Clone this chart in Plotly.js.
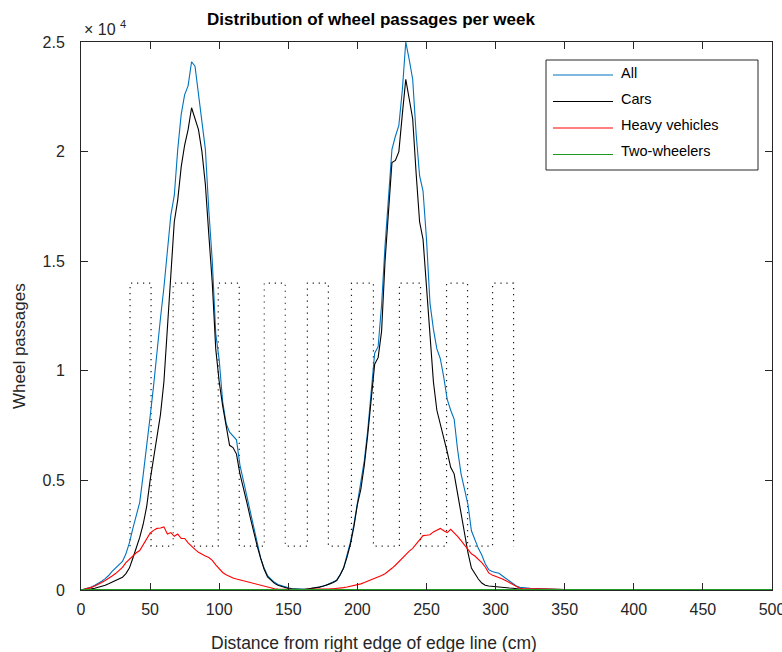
<!DOCTYPE html>
<html>
<head>
<meta charset="utf-8">
<script src="https://cdn.plot.ly/plotly-3.0.1.min.js"></script>
<style>
html,body{margin:0;padding:0;background:#fff;}
#chart{width:782px;height:652px;}
</style>
</head>
<body>
<div id="chart"></div>
<script>
// Distance from right edge of edge line (cm)
const distance = [
  0, 2.5, 5, 7.5, 10, 12.5, 15, 17.5, 20, 22.5,
  25, 27.5, 30, 32.5, 35, 37.5, 40, 42.5, 45, 47.5,
  50, 52.5, 55, 57.5, 60, 62.5, 65, 67.5, 70, 72.5,
  75, 77.5, 80, 82.5, 85, 87.5, 90, 92.5, 95, 97.5,
  100, 102.5, 105, 107.5, 110, 112.5, 115, 117.5, 120, 122.5,
  125, 127.5, 130, 132.5, 135, 137.5, 140, 142.5, 145, 147.5,
  150, 152.5, 155, 157.5, 160, 162.5, 165, 167.5, 170, 172.5,
  175, 177.5, 180, 182.5, 185, 187.5, 190, 192.5, 195, 197.5,
  200, 202.5, 205, 207.5, 210, 212.5, 215, 217.5, 220, 222.5,
  225, 227.5, 230, 232.5, 235, 237.5, 240, 242.5, 245, 247.5,
  250, 252.5, 255, 257.5, 260, 262.5, 265, 267.5, 270, 272.5,
  275, 277.5, 280, 282.5, 285, 287.5, 290, 292.5, 295, 297.5,
  300, 302.5, 305, 307.5, 310, 312.5, 315, 317.5, 320, 322.5,
  325, 330, 340, 350, 360, 370, 380, 390, 400, 410,
  420, 430, 440, 450, 460, 470, 480, 490, 500
];

// Wheel passages (x 10^4)
const allVehicles = [
  0, 0.004, 0.008, 0.014, 0.022, 0.030, 0.040, 0.052, 0.066, 0.085,
  0.100, 0.117, 0.130, 0.165, 0.215, 0.28, 0.34, 0.40, 0.525, 0.65,
  0.79, 0.93, 1.10, 1.24, 1.38, 1.55, 1.71, 1.80, 2.01, 2.17,
  2.26, 2.30, 2.41, 2.39, 2.27, 2.14, 2.01, 1.73, 1.50, 1.17,
  1.05, 0.86, 0.76, 0.72, 0.70, 0.685, 0.57, 0.50, 0.44, 0.37,
  0.29, 0.22, 0.145, 0.10, 0.065, 0.05, 0.035, 0.025, 0.02, 0.014,
  0.009, 0.006, 0.004, 0.003, 0.003, 0.004, 0.006, 0.008, 0.011, 0.014,
  0.018, 0.022, 0.030, 0.036, 0.045, 0.07, 0.10, 0.16, 0.22, 0.30,
  0.40, 0.48, 0.59, 0.73, 0.89, 1.08, 1.11, 1.30, 1.57, 1.78,
  2.01, 2.07, 2.12, 2.28, 2.50, 2.42, 2.33, 2.08, 1.89, 1.82,
  1.60, 1.31, 1.19, 1.10, 1.055, 0.97, 0.87, 0.82, 0.78, 0.64,
  0.53, 0.46, 0.39, 0.27, 0.23, 0.19, 0.16, 0.12, 0.093, 0.084,
  0.08, 0.076, 0.064, 0.052, 0.04, 0.028, 0.018, 0.012, 0.01, 0.008,
  0.008, 0.007, 0.004, 0.002, 0.002, 0.002, 0.001, 0, 0, 0,
  0, 0, 0, 0, 0, 0, 0, 0, 0
];

const cars = [
  0, 0.001, 0.002, 0.005, 0.008, 0.012, 0.017, 0.022, 0.028, 0.035,
  0.042, 0.05, 0.058, 0.075, 0.10, 0.145, 0.19, 0.24, 0.30, 0.38,
  0.50, 0.60, 0.71, 0.80, 0.95, 1.19, 1.47, 1.68, 1.78, 1.93,
  2.03, 2.10, 2.20, 2.15, 2.10, 2.00, 1.85, 1.62, 1.40, 1.10,
  0.95, 0.84, 0.75, 0.66, 0.65, 0.62, 0.53, 0.47, 0.40, 0.33,
  0.26, 0.20, 0.145, 0.095, 0.06, 0.045, 0.03, 0.022, 0.016, 0.011,
  0.007, 0.005, 0.003, 0.002, 0.002, 0.003, 0.005, 0.007, 0.010, 0.013,
  0.017, 0.021, 0.028, 0.034, 0.043, 0.068, 0.10, 0.15, 0.21, 0.29,
  0.39, 0.46, 0.57, 0.71, 0.87, 1.03, 1.06, 1.18, 1.50, 1.72,
  1.95, 1.96, 2.00, 2.17, 2.33, 2.24, 2.15, 1.90, 1.68, 1.60,
  1.38, 1.13, 0.95, 0.82, 0.76, 0.69, 0.63, 0.56, 0.53, 0.44,
  0.35, 0.27, 0.17, 0.10, 0.075, 0.05, 0.032, 0.022, 0.018, 0.016,
  0.014, 0.012, 0.011, 0.010, 0.009, 0.008, 0.005, 0.003, 0.002, 0.002,
  0.002, 0.001, 0.001, 0.002, 0.002, 0.002, 0.001, 0, 0, 0,
  0, 0, 0, 0, 0, 0, 0, 0, 0
];

const heavyVehicles = [
  0, 0.003, 0.007, 0.012, 0.018, 0.025, 0.034, 0.043, 0.052, 0.064,
  0.075, 0.09, 0.103, 0.125, 0.14, 0.155, 0.17, 0.18, 0.205, 0.235,
  0.259, 0.272, 0.281, 0.283, 0.288, 0.255, 0.262, 0.245, 0.255, 0.235,
  0.235, 0.215, 0.198, 0.185, 0.172, 0.162, 0.155, 0.148, 0.135, 0.115,
  0.095, 0.08, 0.07, 0.062, 0.055, 0.05, 0.046, 0.042, 0.037, 0.033,
  0.030, 0.025, 0.02, 0.015, 0.012, 0.008, 0.006, 0.004, 0.003, 0.002,
  0.002, 0.002, 0.002, 0.002, 0.002, 0.002, 0.002, 0.003, 0.003, 0.003,
  0.004, 0.004, 0.005, 0.006, 0.007, 0.008, 0.011, 0.014, 0.017, 0.02,
  0.023, 0.028, 0.034, 0.04, 0.047, 0.052, 0.058, 0.066, 0.074, 0.085,
  0.099, 0.113, 0.13, 0.146, 0.16, 0.177, 0.19, 0.21, 0.225, 0.248,
  0.25, 0.252, 0.265, 0.272, 0.281, 0.27, 0.262, 0.277, 0.262, 0.245,
  0.225, 0.205, 0.185, 0.165, 0.155, 0.14, 0.125, 0.105, 0.078, 0.068,
  0.063, 0.056, 0.05, 0.042, 0.033, 0.024, 0.014, 0.008, 0.006, 0.005,
  0.005, 0.005, 0.004, 0.001, 0, 0, 0, 0, 0, 0,
  0, 0, 0, 0, 0, 0, 0, 0, 0
];

const twoWheelers = [
  0, 0, 0, 0, 0, 0, 0, 0, 0, 0,
  0, 0, 0, 0, 0, 0.001, 0.001, 0.001, 0.001, 0.001,
  0.001, 0.001, 0.001, 0.001, 0.002, 0.002, 0.002, 0.002, 0.002, 0.002,
  0.002, 0.002, 0.002, 0.002, 0.002, 0.001, 0.001, 0.001, 0.001, 0.001,
  0.001, 0.001, 0.001, 0.001, 0.001, 0.001, 0, 0, 0, 0,
  0, 0, 0, 0, 0, 0, 0, 0, 0, 0,
  0, 0, 0, 0, 0, 0, 0, 0, 0, 0,
  0, 0, 0, 0, 0, 0, 0, 0, 0, 0,
  0, 0, 0.001, 0.001, 0.001, 0.001, 0.001, 0.001, 0.002, 0.002,
  0.002, 0.002, 0.002, 0.002, 0.002, 0.002, 0.002, 0.002, 0.002, 0.001,
  0.001, 0.001, 0.001, 0.001, 0.001, 0.001, 0.001, 0.001, 0.001, 0.001,
  0.001, 0.001, 0.001, 0, 0, 0, 0, 0, 0, 0,
  0, 0, 0, 0, 0, 0, 0, 0, 0, 0,
  0, 0, 0, 0, 0, 0, 0, 0, 0, 0,
  0, 0, 0, 0, 0, 0, 0, 0, 0
];

// Dotted square-wave guide: edge positions (cm) and its two levels (x 10^4)
const guideEdges = [35.5, 50.7, 66.7, 81.2, 99.3, 114.5, 132.6, 147.8, 163.8,
                    179, 195.7, 211.6, 230.4, 245.7, 264.5, 279.7, 297.8, 313];
const guideLevels = [0.2, 1.4];

const seriesNames = ['All', 'Cars', 'Heavy vehicles', 'Two-wheelers'];
const seriesColors = ['#0072BD', '#000000', '#FF0000', '#1E9A1E'];
const tickLabelsY = ['0', '0.5', '1', '1.5', '2', '2.5'];
const tickValsY = [0, 0.5, 1, 1.5, 2, 2.5];
const tickValsX = [0, 50, 100, 150, 200, 250, 300, 350, 400, 450, 500];

// build guide path
const gx = [], gy = [];
guideEdges.forEach((e, i) => {
  if (i % 2 === 0) { gx.push(e, e); gy.push(guideLevels[0], guideLevels[1]); }
  else { gx.push(e, e); gy.push(guideLevels[1], guideLevels[0]); }
});

const seriesData = [allVehicles, cars, heavyVehicles, twoWheelers];
const traces = [{
  x: gx, y: gy, mode: 'lines', type: 'scatter', showlegend: false,
  hoverinfo: 'skip',
  line: {color: '#1a1a1a', width: 1.2, dash: '1.2px,4.8px'}
}];
seriesData.forEach((d, i) => {
  traces.push({
    x: distance, y: d, mode: 'lines', type: 'scatter', name: seriesNames[i],
    line: {color: seriesColors[i], width: i === 3 ? 1.8 : 1.1},
    showlegend: false
  });
});

// pixel helpers for plot area 81..772 x 42..590
const L = 81, R = 772, T = 42, B = 590;
const px = v => (v - L) / (R - L);
const py = v => (B - v) / (B - T);
const FONT = 'Liberation Sans, Arial, Helvetica, sans-serif';

const shapes = [{
  type: 'rect', xref: 'paper', yref: 'paper',
  x0: px(546), x1: px(758), y0: py(170), y1: py(60),
  line: {color: '#262626', width: 1}, fillcolor: '#ffffff', layer: 'above'
}];
const annotations = [];
const lineRows = [75, 101.5, 128, 154.5];
const textRows = [72.5, 98.5, 125, 150.5];
seriesNames.forEach((n, i) => {
  shapes.push({
    type: 'line', xref: 'paper', yref: 'paper',
    x0: px(553), x1: px(613), y0: py(lineRows[i]), y1: py(lineRows[i]),
    line: {color: seriesColors[i], width: 1.1}, layer: 'above'
  });
  annotations.push({
    xref: 'paper', yref: 'paper', x: px(619), y: py(textRows[i]),
    xanchor: 'left', yanchor: 'middle', showarrow: false, text: n,
    font: {family: FONT, size: 14.5, color: '#000000'}
  });
});
// exponent label
annotations.push({
  xref: 'paper', yref: 'paper', x: px(82), y: py(28),
  xanchor: 'left', yanchor: 'middle', showarrow: false,
  text: '\u00D7 10 <sup>4</sup>',
  font: {family: FONT, size: 16, color: '#262626'}
});
// axis titles
annotations.push({
  xref: 'paper', yref: 'paper', x: px(374), y: py(643),
  xanchor: 'center', yanchor: 'middle', showarrow: false,
  text: 'Distance from right edge of edge line (cm)',
  font: {family: FONT, size: 17.5, color: '#262626'}
});
annotations.push({
  xref: 'paper', yref: 'paper', x: px(19), y: py(346),
  xanchor: 'center', yanchor: 'middle', showarrow: false, textangle: -90,
  text: 'Wheel passages',
  font: {family: FONT, size: 17, color: '#262626'}
});

const axisCommon = {
  showgrid: false, zeroline: false, showline: true, mirror: 'ticks',
  linecolor: '#262626', linewidth: 1, ticks: 'inside', ticklen: 7,
  tickcolor: '#262626', tickwidth: 1, ticklabeloverflow: 'allow',
  tickfont: {family: FONT, size: 16, color: '#262626'}
};

const layout = {
  width: 782, height: 652,
  margin: {l: L, r: 782 - R, t: T, b: 652 - B, pad: 0},
  paper_bgcolor: '#ffffff', plot_bgcolor: '#ffffff',
  showlegend: false,
  title: {
    text: '<b>Distribution of wheel passages per week</b>',
    x: px(371), xref: 'paper', xanchor: 'center',
    y: 1 - 19 / 652, yref: 'container', yanchor: 'middle',
    font: {family: FONT, size: 17, color: '#000000'}
  },
  xaxis: Object.assign({}, axisCommon, {
    range: [0, 500], tickmode: 'array', tickvals: tickValsX,
    ticklabelstandoff: 5
  }),
  yaxis: Object.assign({}, axisCommon, {
    range: [0, 2.5], tickmode: 'array', tickvals: tickValsY, ticktext: tickLabelsY,
    ticklabelstandoff: 12
  }),
  shapes: shapes,
  annotations: annotations
};

Plotly.newPlot('chart', traces, layout, {displayModeBar: false, staticPlot: true});
</script>
</body>
</html>
